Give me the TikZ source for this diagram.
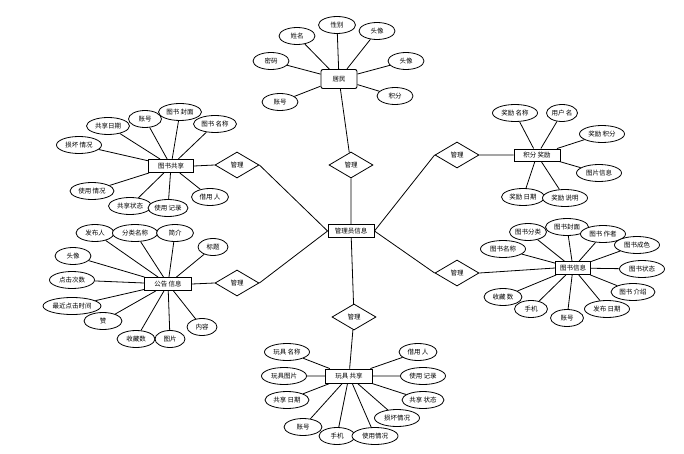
\documentclass[tikz,border=0pt]{standalone}
\usepackage{fontspec}
\setmainfont{Noto Sans CJK SC}
\usepackage{tikz}
\usetikzlibrary{shapes.geometric}

\begin{document}
\begin{tikzpicture}[
    x=1pt, y=-1pt,
    font=\fontsize{6.5}{7}\selectfont,
    attr/.style={
        ellipse,
        draw=black,
        fill=white,
        line width=0.8pt,
        inner sep=0pt,
        minimum height=17pt,
        minimum width=#1
    },
    attr/.default=38pt,
    entity/.style={
        rectangle,
        draw=black,
        fill=white,
        line width=0.9pt,
        inner sep=1pt,
        minimum height=13pt,
        minimum width=#1
    },
    entity/.default=46pt,
    rel/.style={
        diamond,
        draw=black,
        fill=white,
        line width=0.8pt,
        inner sep=0pt,
        aspect=1.7,
        minimum width=44pt,
        minimum height=26pt
    },
    link/.style={
        line width=0.8pt,
        draw=black
    }
]
    \useasboundingbox (0,0) rectangle (684,454);

    % Entities
    \node (admin)    [entity] at (351,231) {管理员信息};
    \node (resident) [entity=36pt, minimum height=19pt, rounded corners=2pt] at (339,79) {居民};
    \node (bshare)   [entity=45pt] at (171,166) {图书共享};
    \node (reward)   [entity=46pt, minimum height=12pt] at (537,155) {积分 奖励};
    \node (notice)   [entity=47pt] at (168,284) {公告 信息};
    \node (book)     [entity=35pt] at (573,268) {图书信息};
    \node (tshare)   [entity=47pt, minimum height=14pt] at (349,376) {玩具 共享};

    % Relations
    \node (mgTop)    [rel] at (351,165) {管理};
    \node (mgBS)     [rel] at (237,165) {管理};
    \node (mgNotice) [rel] at (237,283) {管理};
    \node (mgReward) [rel] at (457,155) {管理};
    \node (mgBook)   [rel] at (457,273) {管理};
    \node (mgToy)    [rel] at (354,317) {管理};

    % Resident attributes
    \node (r1) [attr=36pt] at (297,36)  {姓名};
    \node (r2) [attr=37pt] at (337,25)  {性别};
    \node (r3) [attr=36pt] at (377,31)  {头像};
    \node (r4) [attr=36pt] at (271,61)  {密码};
    \node (r5) [attr=36pt] at (406,61)  {头像};
    \node (r6) [attr=36pt] at (280,102) {账号};
    \node (r7) [attr=36pt] at (395,96)  {积分};

    % Book sharing attributes
    \node (bs1) [attr=43pt] at (108,126) {共享日期};
    \node (bs2) [attr=33pt] at (145,119) {账号};
    \node (bs3) [attr=43pt] at (180,112) {图书 封面};
    \node (bs4) [attr=43pt] at (215,124) {图书 名称};
    \node (bs5) [attr=45pt] at (79,145)  {损坏 情况};
    \node (bs6) [attr=44pt] at (92,191)  {使用 情况};
    \node (bs7) [attr=43pt] at (130,206) {共享状态};
    \node (bs9) [attr=37pt] at (210,197) {借用 人};
    \node (bs8) [attr=40pt] at (168,208) {使用 记录};

    % Reward attributes
    \node (rw1) [attr=45pt] at (515,113) {奖励 名称};
    \node (rw2) [attr=31pt] at (562,113) {用户 名};
    \node (rw3) [attr=45pt] at (602,134) {奖励 积分};
    \node (rw4) [attr=45pt] at (599,173) {图片信息};
    \node (rw5) [attr=43pt] at (523,197) {奖励 日期};
    \node (rw6) [attr=45pt] at (565,198) {奖励 说明};

    % Notice attributes
    \node (n1)  [attr=38pt] at (95,233)  {发布人};
    \node (n2)  [attr=45pt] at (135,233) {分类名称};
    \node (n3)  [attr=37pt] at (175,233) {简介};
    \node (n4)  [attr=30pt] at (213,247) {标题};
    \node (n5)  [attr=36pt] at (73,256)  {头像};
    \node (n6)  [attr=45pt] at (72,280)  {点击次数};
    \node (n7)  [attr=58pt] at (72,306)  {最近点击时间};
    \node (n8)  [attr=38pt] at (103,321) {赞};
    \node (n9)  [attr=38pt] at (136,339) {收藏数};
    \node (n10) [attr=30pt] at (170,339) {图片};
    \node (n11) [attr=30pt] at (202,327) {内容};

    % Book attributes
    \node (b5)  [attr=45pt] at (503,249) {图书名称};
    \node (b1)  [attr=37pt] at (528,232) {图书分类};
    \node (b2)  [attr=43pt] at (567,227) {图书封面};
    \node (b3)  [attr=45pt] at (603,234) {图书 作者};
    \node (b4)  [attr=45pt] at (637,245) {图书成色};
    \node (b6)  [attr=45pt] at (642,269) {图书状态};
    \node (b7)  [attr=44pt] at (633,292) {图书 介绍};
    \node (b8)  [attr=38pt] at (503,297) {收藏 数};
    \node (b9)  [attr=33pt] at (531,309) {手机};
    \node (b10) [attr=45pt] at (607,309) {发布 日期};
    \node (b11) [attr=33pt] at (567,318) {账号};

    % Toy sharing attributes
    \node (t1)  [attr=45pt] at (287,352) {玩具 名称};
    \node (t2)  [attr=45pt] at (284,376) {玩具图片};
    \node (t3)  [attr=44pt] at (287,400) {共享 日期};
    \node (t4)  [attr=38pt] at (418,352) {借用 人};
    \node (t5)  [attr=45pt] at (423,376) {使用 记录};
    \node (t6)  [attr=42pt] at (423,400) {共享 状态};
    \node (t7)  [attr=45pt] at (397,418) {损坏情况};
    \node (t8)  [attr=38pt] at (303,427) {账号};
    \node (t9)  [attr=36pt] at (337,436) {手机};
    \node (t10) [attr=46pt] at (375,436) {使用情况};

    % Connectors
    \draw [link] (mgTop)    -- (admin)  (mgTop)    -- (resident);
    \draw [link] (mgBS.east)     -- (admin.west)  (mgBS.west)     -- (bshare.east);
    \draw [link] (mgNotice.east) -- (admin.west)  (mgNotice.west) -- (notice.east);
    \draw [link] (mgReward.west) -- (admin.east)  (mgReward.east) -- (reward.west);
    \draw [link] (mgBook.west)   -- (admin.east)  (mgBook.east)   -- (book.west);
    \draw [link] (mgToy)    -- (admin)  (mgToy)    -- (tshare);

    \draw [link] (resident) -- (r1) (resident) -- (r2) (resident) -- (r3)
                 (resident) -- (r4) (resident) -- (r5) (resident) -- (r6)
                 (resident) -- (r7);
    \draw [link] (bshare) -- (bs1) (bshare) -- (bs2) (bshare) -- (bs3)
                 (bshare) -- (bs4) (bshare) -- (bs5) (bshare) -- (bs6)
                 (bshare) -- (bs7) (bshare) -- (bs8) (bshare) -- (bs9);
    \draw [link] (reward) -- (rw1) (reward) -- (rw2) (reward) -- (rw3)
                 (reward) -- (rw4) (reward) -- (rw5) (reward) -- (rw6);
    \draw [link] (notice) -- (n1) (notice) -- (n2) (notice) -- (n3)
                 (notice) -- (n4) (notice) -- (n5) (notice) -- (n6)
                 (notice) -- (n7) (notice) -- (n8) (notice) -- (n9)
                 (notice) -- (n10) (notice) -- (n11);
    \draw [link] (book) -- (b1) (book) -- (b2) (book) -- (b3)
                 (book) -- (b4) (book) -- (b5) (book) -- (b6)
                 (book) -- (b7) (book) -- (b8) (book) -- (b9)
                 (book) -- (b10) (book) -- (b11);
    \draw [link] (tshare) -- (t1) (tshare) -- (t2) (tshare) -- (t3)
                 (tshare) -- (t4) (tshare) -- (t5) (tshare) -- (t6)
                 (tshare) -- (t7) (tshare) -- (t8) (tshare) -- (t9)
                 (tshare) -- (t10);

\end{tikzpicture}
\end{document}
